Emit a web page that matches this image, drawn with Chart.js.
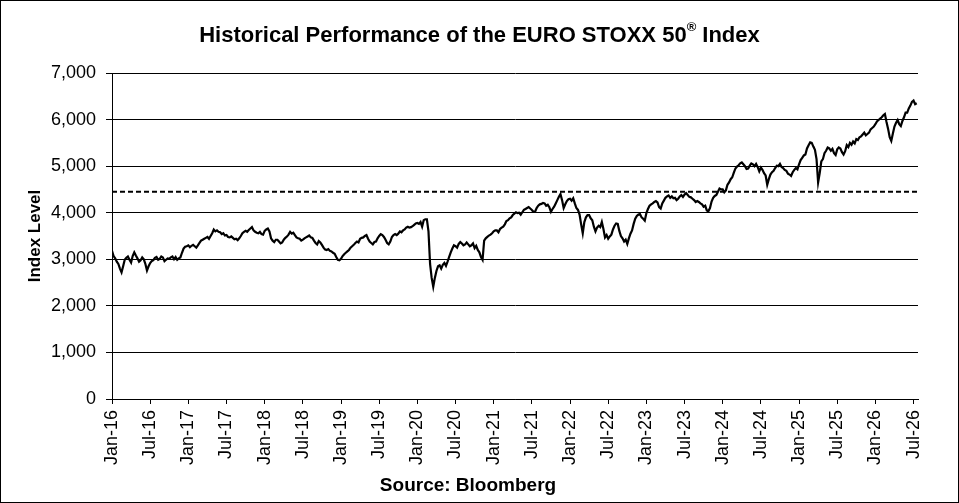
<!DOCTYPE html>
<html>
<head>
<meta charset="utf-8">
<script src="https://cdn.jsdelivr.net/npm/chart.js@4.4.1/dist/chart.umd.min.js"></script>
<style>
    html, body { margin: 0; padding: 0; background: #fff; }
</style>
</head>
<body>
<canvas id="chartCanvas" width="959" height="503"></canvas>
<script>
"use strict";

// x tick labels, one every 6 months starting Jan-16
const tickLabels = ['Jan-16', 'Jul-16', 'Jan-17', 'Jul-17', 'Jan-18', 'Jul-18', 'Jan-19', 'Jul-19',
    'Jan-20', 'Jul-20', 'Jan-21', 'Jul-21', 'Jan-22', 'Jul-22', 'Jan-23', 'Jul-23',
    'Jan-24', 'Jul-24', 'Jan-25', 'Jul-25', 'Jan-26', 'Jul-26'];

// index level, four readings per month from Jan-16
const levels2016 = [3180, 3070, 3020, 2950, 2900, 2800, 2720, 2850, 2990, 3030, 3060, 2990,
    2930, 3070, 3150, 3080, 3020, 2950, 2980, 3040, 3000, 2900, 2760, 2850,
    2920, 2960, 2980, 3030, 3050, 2990, 3010, 3060, 3040, 2960, 2990, 3020,
    3010, 3040, 3060, 3000, 3050, 2990, 3020, 3040, 3140, 3230, 3270, 3280];
const levels2017 = [3300, 3260, 3290, 3310, 3280, 3250, 3300, 3350, 3400, 3420, 3440, 3460,
    3480, 3440, 3500, 3560, 3640, 3600, 3620, 3590, 3580, 3540, 3560, 3510,
    3520, 3480, 3470, 3490, 3460, 3430, 3440, 3410, 3450, 3500, 3560, 3590,
    3610, 3590, 3630, 3660, 3690, 3620, 3590, 3570, 3560, 3590, 3540, 3530];
const levels2018 = [3610, 3640, 3660, 3600, 3450, 3400, 3370, 3420, 3420, 3380, 3340, 3360,
    3420, 3460, 3490, 3530, 3590, 3550, 3570, 3520, 3470, 3450, 3440, 3400,
    3420, 3450, 3470, 3490, 3510, 3470, 3460, 3400, 3350, 3320, 3390, 3360,
    3310, 3250, 3210, 3200, 3220, 3180, 3170, 3140, 3120, 3050, 2990, 2980];
const levels2019 = [3010, 3070, 3110, 3140, 3170, 3200, 3250, 3280, 3310, 3350, 3380, 3360,
    3440, 3460, 3470, 3500, 3520, 3440, 3380, 3350, 3320, 3370, 3380, 3450,
    3500, 3540, 3520, 3480, 3420, 3350, 3320, 3380, 3480, 3520, 3540, 3520,
    3550, 3600, 3580, 3620, 3640, 3680, 3700, 3680, 3690, 3710, 3740, 3770];
const levels2020 = [3780, 3760, 3800, 3700, 3840, 3860, 3860, 3600, 2900, 2600, 2410, 2600,
    2750, 2850, 2870, 2800, 2880, 2920, 2860, 2950, 3050, 3150, 3230, 3300,
    3280, 3250, 3330, 3370, 3340, 3300, 3320, 3360, 3320, 3280, 3300, 3340,
    3240, 3290, 3200, 3150, 3050, 2990, 3400, 3450, 3480, 3510, 3530, 3560];
const levels2021 = [3600, 3620, 3620, 3580, 3650, 3680, 3700, 3750, 3820, 3840, 3880, 3900,
    3950, 3980, 4010, 3990, 4000, 3960, 4010, 4060, 4080, 4100, 4120, 4090,
    4060, 4020, 4020, 4100, 4150, 4180, 4190, 4210, 4200, 4150, 4170, 4120,
    4020, 4080, 4130, 4200, 4270, 4340, 4400, 4270, 4100, 4180, 4250, 4290];
const levels2022 = [4300, 4260, 4310, 4200, 4100, 4060, 3960, 3750, 3560, 3800, 3900, 3950,
    3950, 3880, 3840, 3700, 3600, 3680, 3720, 3690, 3800, 3650, 3470, 3520,
    3440, 3490, 3530, 3640, 3720, 3770, 3760, 3610, 3500, 3450, 3380, 3420,
    3330, 3450, 3550, 3620, 3760, 3870, 3930, 3960, 3970, 3900, 3870, 3830];
const levels2023 = [3990, 4080, 4150, 4180, 4200, 4230, 4250, 4220, 4120, 4090, 4200, 4260,
    4320, 4350, 4370, 4320, 4350, 4310, 4320, 4270, 4300, 4350, 4380, 4340,
    4390, 4420, 4380, 4340, 4330, 4300, 4270, 4230, 4250, 4230, 4200, 4180,
    4130, 4150, 4050, 4030, 4100, 4240, 4320, 4360, 4380, 4450, 4520, 4500];
const levels2024 = [4500, 4440, 4480, 4600, 4650, 4720, 4760, 4860, 4950, 4990, 5020, 5060,
    5080, 5040, 5000, 4940, 4950, 5010, 5060, 5040, 5000, 5050, 4980, 4890,
    4970, 4920, 4850, 4800, 4600, 4720, 4820, 4870, 4900, 4960, 5010, 5000,
    5050, 4980, 4960, 4920, 4900, 4840, 4820, 4790, 4870, 4920, 4960, 4930];
const levels2025 = [5040, 5130, 5180, 5230, 5250, 5380, 5450, 5510, 5500, 5420, 5350, 5150,
    4650, 4850, 5100, 5150, 5280, 5330, 5400, 5380, 5330, 5370, 5280, 5240,
    5360, 5400, 5380, 5300, 5250, 5320, 5450, 5410, 5500, 5460, 5530, 5490,
    5580, 5560, 5620, 5640, 5680, 5720, 5660, 5690, 5720, 5790, 5820, 5850];
const levels2026 = [5900, 5960, 5990, 6020, 6050, 6090, 6120, 5950, 5800, 5620, 5540, 5700,
    5850, 5930, 5990, 5900, 5860, 5970, 6050, 6150, 6150, 6240, 6300, 6380,
    6410, 6330, 6350];

const refLevel = 4450;      // dashed reference line
const pointsPerMonth = 4;
const axisEndMonth = 126.7; // right edge of the plot, just past Jul-26

const levels = [].concat(levels2016, levels2017, levels2018, levels2019, levels2020, levels2021,
    levels2022, levels2023, levels2024, levels2025, levels2026);

const fontFamily = '"Liberation Sans", Arial, Helvetica, sans-serif';

// frame, title with superscript (R) and the source line
const frameAndText = {
    id: 'frameAndText',
    afterDraw(chart) {
        const c = chart.ctx;
        c.save();
        c.strokeStyle = '#000';
        c.lineWidth = 1;
        c.strokeRect(0.5, 0.5, chart.width - 1, chart.height - 1);

        c.fillStyle = '#000';
        c.textAlign = 'left';
        c.textBaseline = 'alphabetic';
        const part1 = 'Historical Performance of the EURO STOXX 50';
        const sup = '\u00AE';
        const part2 = ' Index';
        const big = 'bold 22px ' + fontFamily;
        const small = 'bold 13px ' + fontFamily;
        c.font = big;
        const w1 = c.measureText(part1).width;
        const w3 = c.measureText(part2).width;
        c.font = small;
        const w2 = c.measureText(sup).width;
        let x = chart.width / 2 - (w1 + w2 + w3) / 2;
        c.font = big;
        c.fillText(part1, x, 42);
        x += w1;
        c.font = small;
        c.fillText(sup, x, 31);
        x += w2;
        c.font = big;
        c.fillText(part2, x, 42);

        c.font = 'bold 19px ' + fontFamily;
        c.textAlign = 'center';
        c.fillText('Source: Bloomberg', 468, 491);
        c.restore();
    }
};

const ctx = document.getElementById('chartCanvas');

const data = {
    datasets: [{
        label: 'EURO STOXX 50',
        data: levels.map((v, i) => ({ x: i / pointsPerMonth, y: v })),
        borderColor: '#000',
        borderWidth: 2.2,
        pointRadius: 0,
        tension: 0,
        fill: false
    },
    {
        label: 'Reference',
        data: [{ x: 0, y: refLevel }, { x: axisEndMonth, y: refLevel }],
        borderColor: '#000',
        borderWidth: 2,
        borderDash: [5, 3],
        pointRadius: 0,
        fill: false
    }]
};

const config = {
    type: 'line',
    data: data,
    options: {
        responsive: false,
        animation: false,
        devicePixelRatio: 1,
        layout: { padding: { top: 73, right: 41, bottom: 0, left: 0 } },
        plugins: {
            legend: { display: false },
            tooltip: { enabled: false },
            title: { display: false }
        },
        scales: {
            x: {
                type: 'linear',
                min: 0,
                max: axisEndMonth,
                afterFit: (s) => { s.height = 104; },
                ticks: {
                    stepSize: 6,
                    includeBounds: false,
                    autoSkip: false,
                    minRotation: 90,
                    maxRotation: 90,
                    padding: 6,
                    color: '#000',
                    font: { family: fontFamily, size: 18 },
                    callback: (v) => tickLabels[Math.round(v / 6)]
                },
                grid: { drawOnChartArea: false, drawTicks: true, tickLength: 5, color: '#000' },
                border: { color: '#000', width: 1 }
            },
            y: {
                min: 0,
                max: 7000,
                afterFit: (s) => { s.width = 112; },
                ticks: {
                    stepSize: 1000,
                    padding: 10,
                    color: '#000',
                    font: { family: fontFamily, size: 18 },
                    callback: (v) => v.toLocaleString('en-US')
                },
                grid: { color: '#000', lineWidth: 1, tickLength: 6 },
                border: { color: '#000', width: 1 },
                title: {
                    display: true,
                    text: 'Index Level',
                    color: '#000',
                    font: { family: fontFamily, size: 17, weight: 'bold' },
                    padding: { top: 25, bottom: 0 }
                }
            }
        }
    },
    plugins: [frameAndText]
};

new Chart(ctx, config);
</script>
</body>
</html>
